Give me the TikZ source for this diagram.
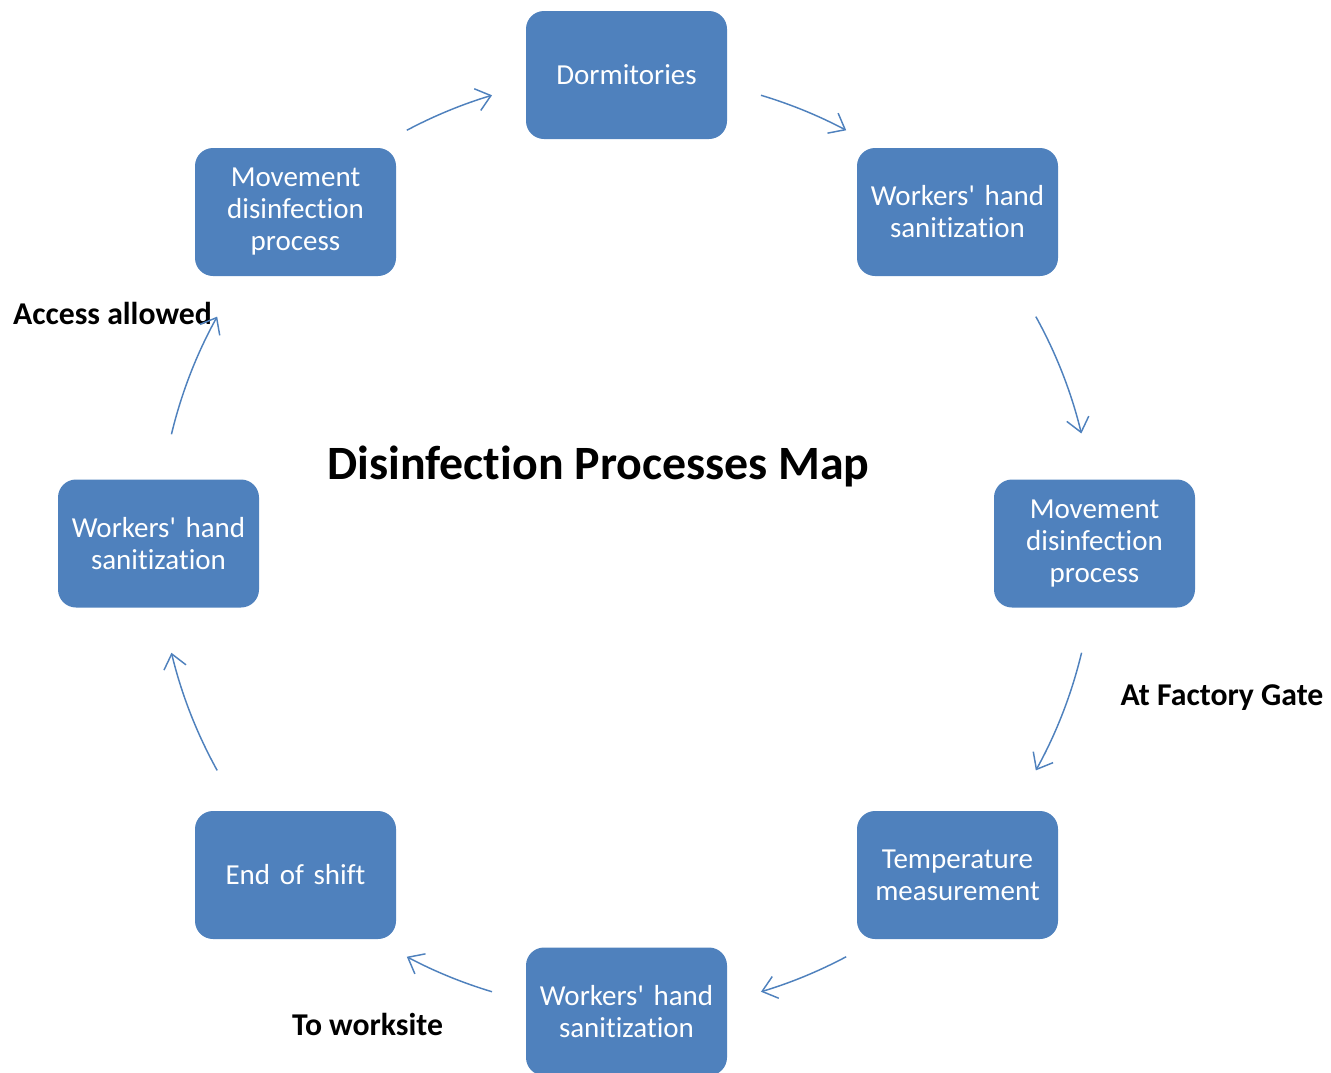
\documentclass[tikz,border=0pt]{standalone}
\usepackage{fontspec}
\setmainfont{Carlito}[Ligatures={NoCommon,NoContextual,NoRequired},RawFeature={-liga,-clig,-calt,-dlig}]
\usetikzlibrary{arrows.meta,calc}
\definecolor{boxblue}{HTML}{4F81BD}
\begin{document}
\begin{tikzpicture}[x=0.75pt,y=0.75pt,
  procbox/.style={rectangle, rounded corners=13.5pt, fill=boxblue, text=white,
    minimum width=150.75pt, minimum height=96pt, inner sep=0pt, align=center,
    text width=148pt, font=\fontsize{21.75pt}{24pt}\selectfont},
  lbl/.style={anchor=base, text=black, inner sep=0pt, font=\fontsize{23.8pt}{28pt}\selectfont\bfseries},
  ttl/.style={anchor=base, text=black, inner sep=0pt, font=\fontsize{35.9pt}{42pt}\selectfont\bfseries},
  arr/.style={draw=boxblue, line width=1.1pt, -{Straight Barb[length=10.5pt,width=17pt,line width=1.1pt]}}
]
\useasboundingbox (0,0) rectangle (1331,-1072);
\coordinate (C) at (626.5,-543.5);
% boxes
\node[procbox] (mtl) at (295.5,-212) {Movement\\disinfection\\process};
\node[procbox] (dorm) at (626.5,-75) {Dormitories};
\node[procbox] (whtr) at (957.5,-212) {Workers\textquotesingle{} hand\\sanitization};
\node[procbox] (mvr) at (1094.5,-543.5) {Movement\\disinfection\\process};
\node[procbox] (temp) at (957.5,-875) {Temperature\\measurement};
\node[procbox] (whb) at (626.5,-1011.5) {Workers\textquotesingle{} hand\\sanitization};
\node[procbox] (eos) at (295.5,-875) {End of shift};
\node[procbox] (whl) at (158.5,-543.5) {Workers\textquotesingle{} hand\\sanitization};
% labels
\node[ttl] (title) at (598.5,-479) {Disinfection Processes Map};
\node[lbl] (acc) at (112.5,-324) {Access allowed};
\node[lbl] (gate) at (1222,-705) {At Factory Gate};
\node[lbl] (work) at (367.5,-1035) {To worksite};
% arrow start points on the circle
\coordinate (s1) at ($(C)+(118:468)$);
\coordinate (s2) at ($(C)+(73.3:468)$);
\coordinate (s3) at ($(C)+(29:468)$);
\coordinate (s4) at ($(C)+(-13.5:468)$);
\coordinate (s5) at ($(C)+(-62:468)$);
\coordinate (s6) at ($(C)+(-106.7:468)$);
\coordinate (s7) at ($(C)+(-151:468)$);
\coordinate (s8) at ($(C)+(166.5:468)$);
% connectors
\draw[arr] (s1) arc[start angle=118, end angle=106.7, radius=351pt];
\draw[arr] (s2) arc[start angle=73.3, end angle=62, radius=351pt];
\draw[arr] (s3) arc[start angle=29, end angle=13.6, radius=351pt];
\draw[arr] (s4) arc[start angle=-13.5, end angle=-29, radius=351pt];
\draw[arr] (s5) arc[start angle=-62, end angle=-73.3, radius=351pt];
\draw[arr] (s6) arc[start angle=-106.7, end angle=-118, radius=351pt];
\draw[arr] (s7) arc[start angle=-151, end angle=-166.5, radius=351pt];
\draw[arr] (s8) arc[start angle=166.5, end angle=151, radius=351pt];
\end{tikzpicture}
\end{document}
